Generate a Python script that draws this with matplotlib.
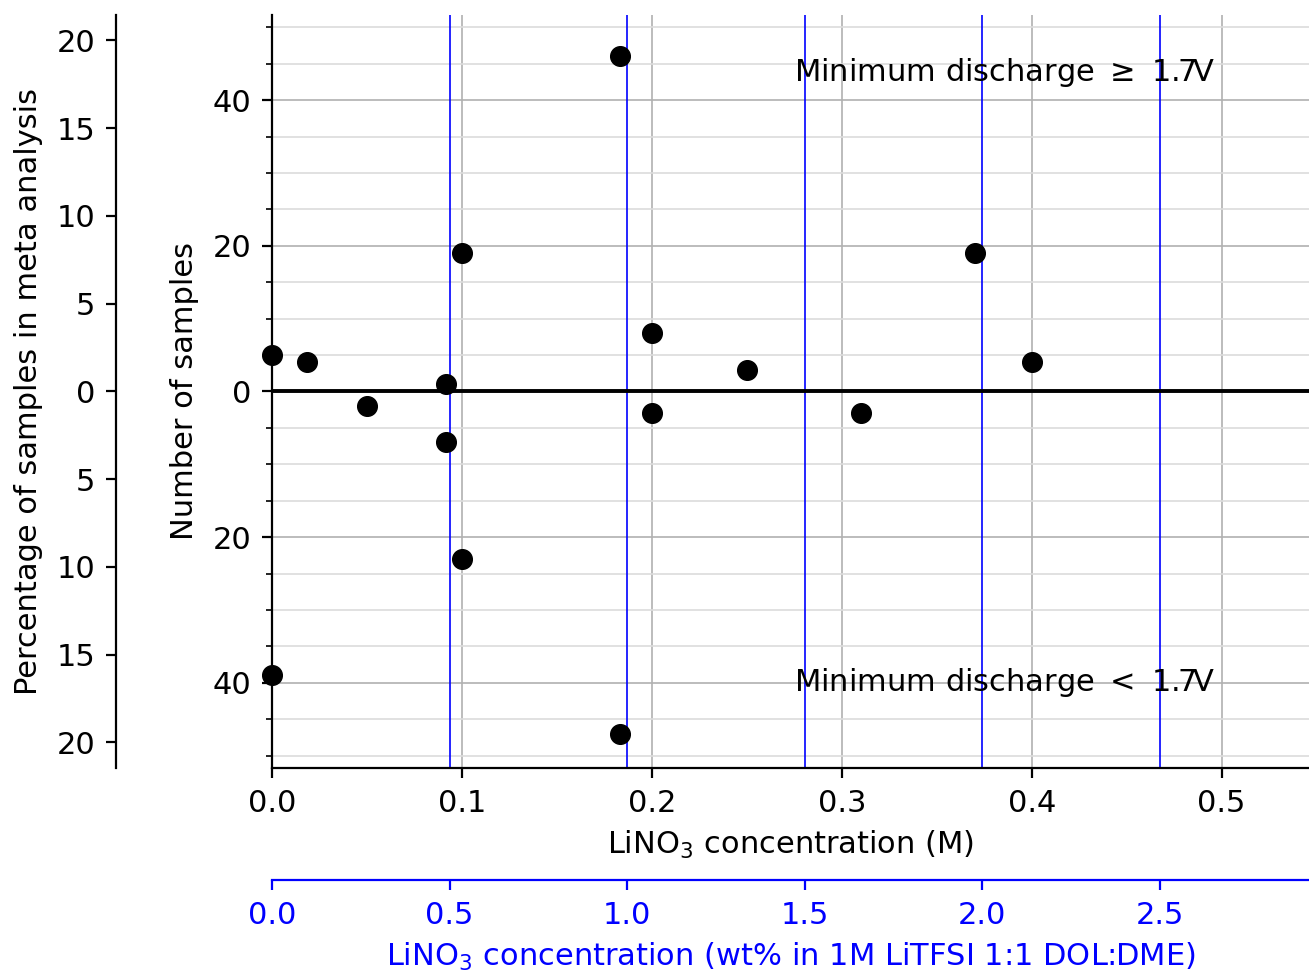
import numpy as np
import matplotlib
matplotlib.use("Agg")
import matplotlib.pyplot as plt
from matplotlib.ticker import MultipleLocator, FuncFormatter, FixedLocator

# LiNO3 concentration (M) and number of samples (positive: min discharge >= 1.7 V,
# negative: min discharge < 1.7 V)
conc_m = [0.0, 0.0184, 0.05, 0.0916, 0.0916, 0.1, 0.1, 0.183, 0.183,
          0.2, 0.2, 0.25, 0.31, 0.37, 0.4, 0.0]
n_samples = [5, 4, -2, 1, -7, 19, -23, 46, -47, 8, -3, 3, -3, 19, 4, -39]
total_samples = 241
wt_per_molar = 1 / 0.187   # wt% in 1M LiTFSI per M of LiNO3
wt_ticks = [0.0, 0.5, 1.0, 1.5, 2.0, 2.5]

fs = 22
plt.rcParams['font.size'] = fs

fig = plt.figure(figsize=(13.09, 9.71), dpi=100)
ax = fig.add_axes([0.2078, 0.2091, 0.7922, 0.7755])

ylim = max(abs(v) for v in n_samples) * 1.1
ax.set_xlim(0, 0.546)
ax.set_ylim(-ylim, ylim)

ax.yaxis.set_major_locator(MultipleLocator(20))
ax.yaxis.set_minor_locator(MultipleLocator(5))
ax.yaxis.set_major_formatter(FuncFormatter(lambda v, p: f"{abs(v):.0f}"))
ax.xaxis.set_major_locator(MultipleLocator(0.1))

ax.grid(axis='x', which='major', color='#b0b0b0', lw=1.2)
ax.grid(axis='y', which='major', color='#b0b0b0', lw=1.2)
ax.grid(axis='y', which='minor', color='#dcdcdc', lw=1.2)
ax.set_axisbelow(True)

for w in wt_ticks[1:]:
    ax.axvline(w / wt_per_molar, color='blue', lw=1.2, zorder=1.5)
ax.axhline(0, color='black', lw=2.8, zorder=2)

ax.scatter(conc_m, n_samples, s=200, color='black', zorder=3, clip_on=False)

ax.text(0.275, 43.8, r"Minimum discharge $\geq$ 1.7V", va='center', fontsize=fs)
ax.text(0.275, -40, "Minimum discharge $<$ 1.7V", va='center', fontsize=fs)

for s in ['top', 'right']:
    ax.spines[s].set_visible(False)
for s in ['left', 'bottom']:
    ax.spines[s].set_linewidth(1.6)
ax.tick_params(which='major', length=7, width=1.6, pad=8)
ax.tick_params(which='minor', length=4, width=1.2)
ax.set_xlabel(r"LiNO$_3$ concentration (M)", labelpad=8)
ax.set_ylabel("Number of samples", labelpad=10)

# percentage axis on the far left
ax2 = ax.twinx()
ax2.spines['right'].set_visible(False)
ax2.spines['top'].set_visible(False)
ax2.spines['bottom'].set_visible(False)
ax2.spines['left'].set_visible(True)
ax2.spines['left'].set_position(('axes', -0.1504))
ax2.spines['left'].set_linewidth(1.6)
ax2.yaxis.set_label_position('left')
ax2.yaxis.set_ticks_position('left')
plim = ylim * 100 / total_samples
ax2.set_ylim(-plim, plim)
ax2.yaxis.set_major_locator(MultipleLocator(5))
ax2.yaxis.set_major_formatter(FuncFormatter(lambda v, p: f"{abs(v):.0f}"))
ax2.tick_params(length=7, width=1.6, pad=8)
ax2.set_ylabel("Percentage of samples in meta analysis", labelpad=10)

# wt% axis below
sec = ax.secondary_xaxis(-0.1487, functions=(lambda x: x * wt_per_molar,
                                             lambda w: w / wt_per_molar))
sec.xaxis.set_major_locator(FixedLocator(wt_ticks))
sec.spines['bottom'].set_color('blue')
sec.spines['bottom'].set_linewidth(1.6)
sec.tick_params(colors='blue', length=7, width=1.6, pad=8)
sec.set_xlabel(r"LiNO$_3$ concentration (wt% in 1M LiTFSI 1:1 DOL:DME)",
               color='blue', labelpad=8)

fig.savefig("out.png", dpi=100)
